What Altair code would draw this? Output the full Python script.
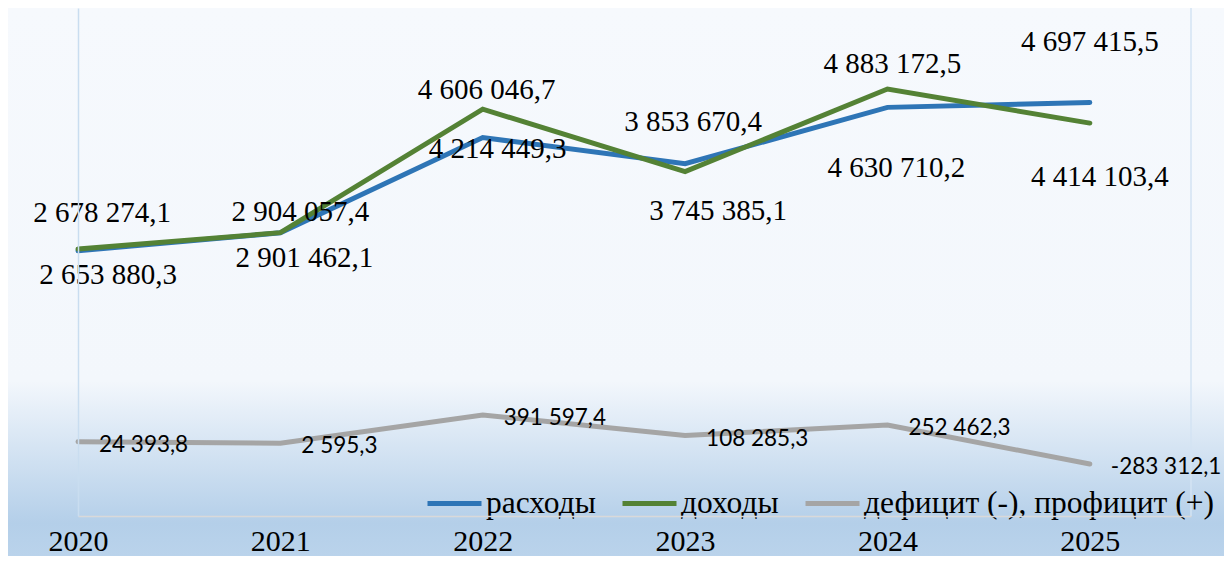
import altair as alt
import pandas as pd

# ---- data -------------------------------------------------------------
years = [2020, 2021, 2022, 2023, 2024, 2025]
rashody = [2653880.3, 2901462.1, 4214449.3, 3853670.4, 4630710.2, 4697415.5]
dohody = [2678274.1, 2904057.4, 4606046.7, 3745385.1, 4883172.5, 4414103.4]
deficit = [24393.8, 2595.3, 391597.4, 108285.3, 252462.3, -283312.1]
series_names = ["расходы", "доходы", "дефицит (-), профицит (+)"]
series_colors = ["#2e75b6", "#548235", "#a5a5a5"]

# label nudges (pixels), mimicking the hand-placed labels of the original
nudge_dx = {"расходы": [30, 24, 15, 8, 9, 0], "доходы": [24, 20, 4, 33, 5, 10]}
nudge_dy = {"расходы": [24, 25, 11, -42, 61, -61], "доходы": [-36, -21, -19, 39, -25, 54]}


def fmt(v):
    s = f"{abs(v):,.1f}".replace(",", " ").replace(".", ",")
    return ("-" if v < 0 else "") + s


rows = []
for name, vals in zip(series_names, [rashody, dohody, deficit]):
    for i, (y, v) in enumerate(zip(years, vals)):
        rows.append({
            "year": y, "value": v, "series": name, "label": fmt(v),
            "ndx": nudge_dx.get(name, [0] * 6)[i],
            "ndy": nudge_dy.get(name, [0] * 6)[i],
        })
df = pd.DataFrame(rows)

W, H = 1113, 508
PAD_L, PAD_R, PAD_B = 70, 33, 40

xscale = alt.Scale(domain=[2020, 2025.5], nice=False, zero=False)
yscale = alt.Scale(domain=[-1000000, 6000000], nice=False, zero=False)

x_enc = alt.X("year:Q", scale=xscale, axis=alt.Axis(
    values=years, format="d", title=None, labelFont="Liberation Serif",
    labelFontSize=30, labelColor="black", ticks=False, grid=False,
    domainColor="#d9d9d9", domainWidth=1.5, labelPadding=10, labelFlush=False,
    zindex=1))
y_enc = alt.Y("value:Q", scale=yscale, axis=alt.Axis(
    title=None, labels=False, ticks=False, grid=False,
    domainColor="#c9ddf0", domainWidth=1.5, zindex=1))

# background gradient (decorative)
bg = alt.Chart(pd.DataFrame({"k": [0]})).mark_rect(
    color=alt.Gradient(
        gradient="linear",
        stops=[
            alt.GradientStop(offset=0, color="#f6f9fd"),
            alt.GradientStop(offset=0.68, color="#f3f7fc"),
            alt.GradientStop(offset=0.94, color="#b4cfe9"),
            alt.GradientStop(offset=1, color="#bad3eb"),
        ],
        x1=0, x2=0, y1=0, y2=1,
    )
).encode(x=alt.value(-PAD_L), x2=alt.value(W + PAD_R), y=alt.value(0), y2=alt.value(H + PAD_B))

right_line = alt.Chart(pd.DataFrame({"k": [0]})).mark_rule(
    color="#d3e3f3", strokeWidth=1.5
).encode(x=alt.value(W), y=alt.value(0), y2=alt.value(H))

lines = alt.Chart(df).mark_line(strokeCap="round").encode(
    x=x_enc,
    y=y_enc,
    color=alt.Color("series:N", scale=alt.Scale(domain=series_names, range=series_colors),
                    legend=alt.Legend(
                        orient="none", legendX=347, legendY=466, direction="horizontal",
                        title=None, symbolType="stroke", symbolSize=2916,
                        symbolStrokeWidth=5, labelFont="Liberation Serif",
                        labelFontSize=31.5, labelColor="black", labelOffset=2,
                        columnPadding=16, labelLimit=0)),
    strokeWidth=alt.StrokeWidth("series:N", scale=alt.Scale(domain=series_names, range=[5, 5, 4]),
                                legend=None),
    order=alt.Order("year:Q"),
)

main_labels = alt.Chart(df).transform_filter(
    alt.datum.series != series_names[2]
).mark_text(font="Liberation Serif", fontSize=29, color="black",
            align="center", baseline="middle").encode(
    x=alt.value({"expr": "scale('x', datum.year) + datum.ndx"}),
    y=alt.value({"expr": "scale('y', datum.value) + datum.ndy"}),
    text="label:N",
)

def_labels = alt.Chart(df).transform_filter(
    alt.datum.series == series_names[2]
).mark_text(font="Lato", fontSize=22.5, color="black",
            align="left", baseline="middle", dx=21, dy=3).encode(
    x=alt.X("year:Q", scale=xscale),
    y=alt.Y("value:Q", scale=yscale),
    text="label:N",
)

chart = alt.layer(bg, right_line, lines, def_labels, main_labels).properties(
    width=W, height=H, background="white",
    autosize=alt.AutoSizeParams(type="none"),
    padding={"left": PAD_L, "top": 0, "right": PAD_R, "bottom": PAD_B},
).configure_view(stroke=None)

chart.save("out.html", embed_options={"renderer": "svg", "actions": False})
